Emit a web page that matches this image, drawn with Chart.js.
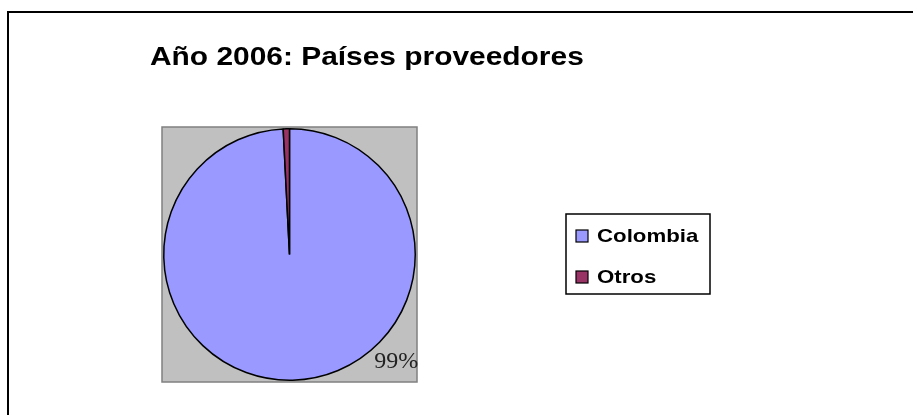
<!DOCTYPE html>
<html>
<head>
<meta charset="utf-8">
<script src="https://cdn.jsdelivr.net/npm/chart.js@4/dist/chart.umd.min.js"></script>
<style>
html,body{margin:0;padding:0;background:#fff;}
#wrap{width:913px;height:415px;position:relative;}
</style>
</head>
<body>
<div id="wrap"><canvas id="c" width="913" height="415"></canvas></div>
<script>
const chartTitle = "Año 2006: Países proveedores";
const categories = ["Colombia", "Otros"];
const values = [99.2, 0.8];
const valueLabels = ["99%", ""];
const colors = ["#9999ff", "#993366"];

function stretchedText(ctx, text, x, y, sx) {
  ctx.save();
  ctx.translate(x, y);
  ctx.scale(sx, 1);
  ctx.fillText(text, 0, 0);
  ctx.restore();
}

const decor = {
  id: 'decor',
  beforeDraw(chart) {
    const ctx = chart.ctx;
    const a = chart.chartArea;
    ctx.save();
    ctx.fillStyle = '#ffffff';
    ctx.fillRect(0, 0, chart.width, chart.height);
    // outer frame
    ctx.strokeStyle = '#000';
    ctx.lineWidth = 2;
    ctx.beginPath();
    ctx.moveTo(8, chart.height + 2);
    ctx.lineTo(8, 12);
    ctx.lineTo(chart.width + 2, 12);
    ctx.stroke();
    // plot area
    ctx.fillStyle = '#c0c0c0';
    ctx.fillRect(a.left - 1, a.top - 1, a.right - a.left + 2, a.bottom - a.top + 2);
    ctx.strokeStyle = '#808080';
    ctx.lineWidth = 1.5;
    ctx.strokeRect(a.left - 1, a.top - 1, a.right - a.left + 2, a.bottom - a.top + 2);
    // title
    ctx.fillStyle = '#000';
    ctx.font = 'bold 26px "Liberation Sans", Arial, sans-serif';
    ctx.textBaseline = 'alphabetic';
    ctx.textAlign = 'left';
    stretchedText(ctx, chartTitle, 150, 65, 1.15);
    ctx.restore();
  },
  afterDatasetsDraw(chart) {
    const ctx = chart.ctx;
    const meta = chart.getDatasetMeta(0);
    ctx.save();
    // value label for main slice
    const arc = meta.data[0];
    ctx.fillStyle = '#222';
    ctx.font = '24px "Liberation Serif", "Times New Roman", serif';
    ctx.textAlign = 'right';
    ctx.textBaseline = 'alphabetic';
    ctx.fillText(valueLabels[0], arc.x + arc.outerRadius + 3, arc.y + arc.outerRadius * 0.9);
    // legend
    const lx = 566, ly = 214, lw = 144, lh = 80;
    ctx.fillStyle = '#fff';
    ctx.fillRect(lx, ly, lw, lh);
    ctx.strokeStyle = '#000';
    ctx.lineWidth = 1.5;
    ctx.strokeRect(lx, ly, lw, lh);
    ctx.font = 'bold 19px "Liberation Sans", Arial, sans-serif';
    ctx.textAlign = 'left';
    ctx.textBaseline = 'middle';
    categories.forEach((name, i) => {
      const cy = 236 + i * 41;
      ctx.fillStyle = colors[i];
      ctx.fillRect(576, cy - 6, 12, 12);
      ctx.strokeStyle = '#000';
      ctx.lineWidth = 1.2;
      ctx.strokeRect(576, cy - 6, 12, 12);
      ctx.fillStyle = '#000';
      stretchedText(ctx, name, 597, cy + 1, 1.17);
    });
    ctx.restore();
  }
};

new Chart(document.getElementById('c'), {
  type: 'pie',
  data: {
    labels: categories,
    datasets: [{
      data: values,
      backgroundColor: colors,
      borderColor: '#000',
      borderWidth: 1.5
    }]
  },
  options: {
    responsive: false,
    animation: false,
    layout: { padding: { left: 163, top: 128, right: 497, bottom: 34 } },
    plugins: {
      legend: { display: false },
      title: { display: false },
      tooltip: { enabled: false }
    }
  },
  plugins: [decor]
});
</script>
</body>
</html>
